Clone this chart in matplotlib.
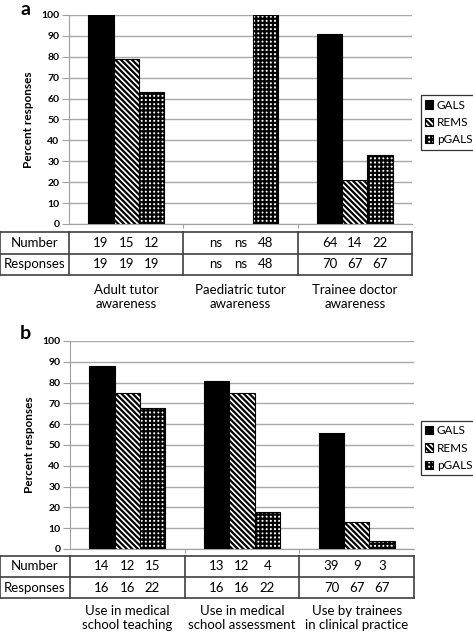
import numpy as np
import matplotlib
matplotlib.use('Agg')
import matplotlib.pyplot as plt
import matplotlib.transforms as mtransforms
from matplotlib.lines import Line2D

plt.rcParams['font.family'] = ['Lato', 'DejaVu Sans']
plt.rcParams['hatch.linewidth'] = 1.6

series = ['GALS', 'REMS', 'pGALS']

# panel a
cats_a = ['Adult tutor\nawareness', 'Paediatric tutor\nawareness', 'Trainee doctor\nawareness']
gals_a = [100, np.nan, 91]
rems_a = [79, np.nan, 21]
pgals_a = [63, 100, 33]
number_a = [['19', '15', '12'], ['ns', 'ns', '48'], ['64', '14', '22']]
responses_a = [['19', '19', '19'], ['ns', 'ns', '48'], ['70', '67', '67']]

# panel b
cats_b = ['Use in medical\nschool teaching', 'Use in medical\nschool assessment', 'Use by trainees\nin clinical practice']
gals_b = [88, 81, 56]
rems_b = [75, 75, 13]
pgals_b = [68, 18, 4]
number_b = [['14', '12', '15'], ['13', '12', '4'], ['39', '9', '3']]
responses_b = [['16', '16', '22'], ['16', '16', '22'], ['70', '67', '67']]

W, H = 473, 633
fig = plt.figure(figsize=(W / 100, H / 100), dpi=100)


def fx(px):
    return px / W


def fy(py):
    return 1 - py / H


styles = [dict(color='black', edgecolor='black'),
          dict(color='white', edgecolor='black', hatch='\\\\\\\\\\\\'),
          dict(color='white', edgecolor='black', hatch='++++')]
width = 0.22
offsets = [-width, 0, width]


def draw_panel(left, right, top, bottom, tab_top, tab_mid, tab_bot, lab_y,
               vals, cats, numbers, responses, letter, letter_y, leg_y):
    ax = fig.add_axes([fx(left), fy(bottom), fx(right - left), (bottom - top) / H])
    x = np.arange(3)
    for s, v, st, off in zip(series, vals, styles, offsets):
        ax.bar(x + off, v, width, label=s, linewidth=0.8, zorder=3, **st)
    ax.set_xlim(-0.5, 2.5)
    ax.set_ylim(0, 100)
    ax.set_yticks(np.arange(0, 101, 10))
    ax.set_xticks([0.5, 1.5])
    ax.set_xticklabels([])
    ax.tick_params(axis='x', length=3, color='#a0a0a0')
    ax.tick_params(axis='y', length=5, color='#a0a0a0', labelsize=7.5, pad=2)
    for t in ax.get_yticklabels():
        t.set_fontweight('bold')
    ax.grid(axis='y', color='#a8a8a8', linewidth=1, zorder=0)
    for sp in ['top', 'right']:
        ax.spines[sp].set_visible(False)
    ax.spines['left'].set_color('#a0a0a0')
    ax.spines['bottom'].set_color('#a0a0a0')
    ax.set_ylabel('Percent responses', fontsize=8.5, fontweight='bold', labelpad=5)

    # table under the chart
    tr = mtransforms.blended_transform_factory(ax.transData, fig.transFigure)
    lc = '#404040'
    for yy in [tab_top, tab_mid, tab_bot]:
        fig.add_artist(Line2D([0, fx(right)], [fy(yy), fy(yy)], color=lc, lw=1.2))
    for xx in [0.001, fx(left), fx(right)]:
        fig.add_artist(Line2D([xx, xx], [fy(tab_top), fy(tab_bot)], color=lc, lw=1.2))
    for g in [0.5, 1.5]:
        fig.add_artist(Line2D([g, g], [fy(tab_top), fy(tab_bot)], color=lc, lw=1.2, transform=tr))
    r1 = (tab_top + tab_mid) / 2
    r2 = (tab_mid + tab_bot) / 2
    fs = 9.5
    fig.text(fx(left / 2), fy(r1), 'Number', ha='center', va='center', fontsize=fs)
    fig.text(fx(left / 2), fy(r2), 'Responses', ha='center', va='center', fontsize=fs)
    for g in range(3):
        for k in range(3):
            fig.text(g + offsets[k], fy(r1), numbers[g][k], transform=tr,
                     ha='center', va='center', fontsize=fs)
            fig.text(g + offsets[k], fy(r2), responses[g][k], transform=tr,
                     ha='center', va='center', fontsize=fs)
        fig.text(g, fy(lab_y), cats[g], transform=tr, ha='center', va='center',
                 fontsize=fs, linespacing=1.25)

    fig.text(fx(20), fy(letter_y), letter, fontsize=14, fontweight='bold', va='baseline')
    ax.legend(loc='center left', bbox_to_anchor=(fx(421), fy(leg_y)),
              bbox_transform=fig.transFigure, frameon=True, fancybox=False,
              edgecolor='black', fontsize=8.5, handlelength=0.7, handleheight=0.7,
              handletextpad=0.3, borderpad=0.35, labelspacing=0.55, borderaxespad=0)
    ax.get_legend().get_frame().set_linewidth(0.9)
    return ax


draw_panel(69, 412, 15, 224, 232, 254, 275, 297,
           [gals_a, rems_a, pgals_a], cats_a, number_a, responses_a, 'a', 15, 122.5)
draw_panel(70, 414, 341, 549, 556, 577, 598, 618,
           [gals_b, rems_b, pgals_b], cats_b, number_b, responses_b, 'b', 339, 448)

fig.savefig('out.png', dpi=100)
